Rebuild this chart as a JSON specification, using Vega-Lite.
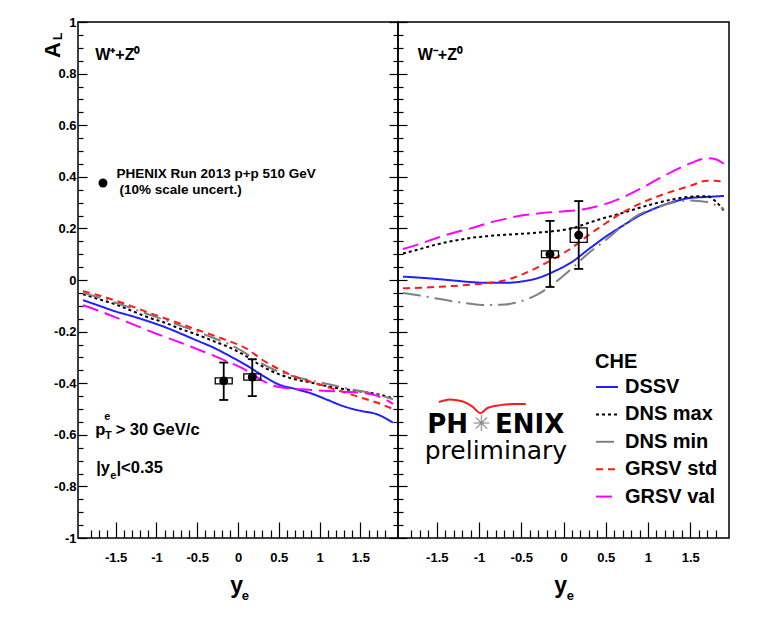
{
  "$schema": "https://vega.github.io/schema/vega-lite/v6.json",
  "background": "white",
  "padding": {"left": 41, "top": 15, "right": 5, "bottom": 5},
  "spacing": 0,
  "bounds": "flush",
  "datasets": {
    "curves": [
      {"p":"L","m":"DSSV","ye":-1.9,"AL":-0.078},{"p":"L","m":"DSSV","ye":-1.7,"AL":-0.1},{"p":"L","m":"DSSV","ye":-1.5,"AL":-0.122},{"p":"L","m":"DSSV","ye":-1.3,"AL":-0.14},{"p":"L","m":"DSSV","ye":-1.1,"AL":-0.16},{"p":"L","m":"DSSV","ye":-0.9,"AL":-0.182},{"p":"L","m":"DSSV","ye":-0.7,"AL":-0.208},{"p":"L","m":"DSSV","ye":-0.5,"AL":-0.235},{"p":"L","m":"DSSV","ye":-0.3,"AL":-0.262},{"p":"L","m":"DSSV","ye":-0.1,"AL":-0.295},{"p":"L","m":"DSSV","ye":0.1,"AL":-0.33},{"p":"L","m":"DSSV","ye":0.3,"AL":-0.37},{"p":"L","m":"DSSV","ye":0.5,"AL":-0.405},{"p":"L","m":"DSSV","ye":0.7,"AL":-0.422},{"p":"L","m":"DSSV","ye":0.9,"AL":-0.44},{"p":"L","m":"DSSV","ye":1.1,"AL":-0.465},{"p":"L","m":"DSSV","ye":1.3,"AL":-0.49},{"p":"L","m":"DSSV","ye":1.5,"AL":-0.507},{"p":"L","m":"DSSV","ye":1.7,"AL":-0.52},{"p":"L","m":"DSSV","ye":1.9,"AL":-0.553},
      {"p":"L","m":"DNS max","ye":-1.9,"AL":-0.055},{"p":"L","m":"DNS max","ye":-1.7,"AL":-0.075},{"p":"L","m":"DNS max","ye":-1.5,"AL":-0.095},{"p":"L","m":"DNS max","ye":-1.3,"AL":-0.12},{"p":"L","m":"DNS max","ye":-1.1,"AL":-0.145},{"p":"L","m":"DNS max","ye":-0.9,"AL":-0.165},{"p":"L","m":"DNS max","ye":-0.7,"AL":-0.19},{"p":"L","m":"DNS max","ye":-0.5,"AL":-0.212},{"p":"L","m":"DNS max","ye":-0.3,"AL":-0.237},{"p":"L","m":"DNS max","ye":-0.1,"AL":-0.262},{"p":"L","m":"DNS max","ye":0.1,"AL":-0.295},{"p":"L","m":"DNS max","ye":0.3,"AL":-0.335},{"p":"L","m":"DNS max","ye":0.5,"AL":-0.365},{"p":"L","m":"DNS max","ye":0.7,"AL":-0.385},{"p":"L","m":"DNS max","ye":0.9,"AL":-0.398},{"p":"L","m":"DNS max","ye":1.1,"AL":-0.412},{"p":"L","m":"DNS max","ye":1.3,"AL":-0.423},{"p":"L","m":"DNS max","ye":1.5,"AL":-0.432},{"p":"L","m":"DNS max","ye":1.7,"AL":-0.442},{"p":"L","m":"DNS max","ye":1.9,"AL":-0.458},
      {"p":"L","m":"DNS min","ye":-1.9,"AL":-0.05},{"p":"L","m":"DNS min","ye":-1.7,"AL":-0.068},{"p":"L","m":"DNS min","ye":-1.5,"AL":-0.088},{"p":"L","m":"DNS min","ye":-1.3,"AL":-0.11},{"p":"L","m":"DNS min","ye":-1.1,"AL":-0.133},{"p":"L","m":"DNS min","ye":-0.9,"AL":-0.155},{"p":"L","m":"DNS min","ye":-0.7,"AL":-0.178},{"p":"L","m":"DNS min","ye":-0.5,"AL":-0.2},{"p":"L","m":"DNS min","ye":-0.3,"AL":-0.225},{"p":"L","m":"DNS min","ye":-0.1,"AL":-0.25},{"p":"L","m":"DNS min","ye":0.1,"AL":-0.285},{"p":"L","m":"DNS min","ye":0.3,"AL":-0.325},{"p":"L","m":"DNS min","ye":0.5,"AL":-0.355},{"p":"L","m":"DNS min","ye":0.7,"AL":-0.375},{"p":"L","m":"DNS min","ye":0.9,"AL":-0.39},{"p":"L","m":"DNS min","ye":1.1,"AL":-0.403},{"p":"L","m":"DNS min","ye":1.3,"AL":-0.418},{"p":"L","m":"DNS min","ye":1.5,"AL":-0.43},{"p":"L","m":"DNS min","ye":1.7,"AL":-0.443},{"p":"L","m":"DNS min","ye":1.9,"AL":-0.462},
      {"p":"L","m":"GRSV std","ye":-1.9,"AL":-0.043},{"p":"L","m":"GRSV std","ye":-1.7,"AL":-0.06},{"p":"L","m":"GRSV std","ye":-1.5,"AL":-0.08},{"p":"L","m":"GRSV std","ye":-1.3,"AL":-0.102},{"p":"L","m":"GRSV std","ye":-1.1,"AL":-0.126},{"p":"L","m":"GRSV std","ye":-0.9,"AL":-0.148},{"p":"L","m":"GRSV std","ye":-0.7,"AL":-0.17},{"p":"L","m":"GRSV std","ye":-0.5,"AL":-0.193},{"p":"L","m":"GRSV std","ye":-0.3,"AL":-0.215},{"p":"L","m":"GRSV std","ye":-0.1,"AL":-0.238},{"p":"L","m":"GRSV std","ye":0.1,"AL":-0.265},{"p":"L","m":"GRSV std","ye":0.3,"AL":-0.31},{"p":"L","m":"GRSV std","ye":0.5,"AL":-0.345},{"p":"L","m":"GRSV std","ye":0.7,"AL":-0.375},{"p":"L","m":"GRSV std","ye":0.9,"AL":-0.395},{"p":"L","m":"GRSV std","ye":1.1,"AL":-0.415},{"p":"L","m":"GRSV std","ye":1.3,"AL":-0.435},{"p":"L","m":"GRSV std","ye":1.5,"AL":-0.455},{"p":"L","m":"GRSV std","ye":1.7,"AL":-0.475},{"p":"L","m":"GRSV std","ye":1.9,"AL":-0.5},
      {"p":"L","m":"GRSV val","ye":-1.9,"AL":-0.098},{"p":"L","m":"GRSV val","ye":-1.7,"AL":-0.12},{"p":"L","m":"GRSV val","ye":-1.5,"AL":-0.145},{"p":"L","m":"GRSV val","ye":-1.3,"AL":-0.17},{"p":"L","m":"GRSV val","ye":-1.1,"AL":-0.196},{"p":"L","m":"GRSV val","ye":-0.9,"AL":-0.22},{"p":"L","m":"GRSV val","ye":-0.7,"AL":-0.243},{"p":"L","m":"GRSV val","ye":-0.5,"AL":-0.268},{"p":"L","m":"GRSV val","ye":-0.3,"AL":-0.293},{"p":"L","m":"GRSV val","ye":-0.1,"AL":-0.32},{"p":"L","m":"GRSV val","ye":0.1,"AL":-0.35},{"p":"L","m":"GRSV val","ye":0.3,"AL":-0.39},{"p":"L","m":"GRSV val","ye":0.5,"AL":-0.415},{"p":"L","m":"GRSV val","ye":0.7,"AL":-0.422},{"p":"L","m":"GRSV val","ye":0.9,"AL":-0.426},{"p":"L","m":"GRSV val","ye":1.1,"AL":-0.43},{"p":"L","m":"GRSV val","ye":1.3,"AL":-0.433},{"p":"L","m":"GRSV val","ye":1.5,"AL":-0.437},{"p":"L","m":"GRSV val","ye":1.7,"AL":-0.448},{"p":"L","m":"GRSV val","ye":1.9,"AL":-0.48},
      {"p":"R","m":"DSSV","ye":-1.9,"AL":0.013},{"p":"R","m":"DSSV","ye":-1.7,"AL":0.009},{"p":"R","m":"DSSV","ye":-1.5,"AL":0.004},{"p":"R","m":"DSSV","ye":-1.3,"AL":-0.002},{"p":"R","m":"DSSV","ye":-1.1,"AL":-0.008},{"p":"R","m":"DSSV","ye":-0.9,"AL":-0.011},{"p":"R","m":"DSSV","ye":-0.7,"AL":-0.011},{"p":"R","m":"DSSV","ye":-0.5,"AL":-0.006},{"p":"R","m":"DSSV","ye":-0.3,"AL":0.008},{"p":"R","m":"DSSV","ye":-0.1,"AL":0.035},{"p":"R","m":"DSSV","ye":0.1,"AL":0.07},{"p":"R","m":"DSSV","ye":0.3,"AL":0.12},{"p":"R","m":"DSSV","ye":0.5,"AL":0.168},{"p":"R","m":"DSSV","ye":0.7,"AL":0.21},{"p":"R","m":"DSSV","ye":0.9,"AL":0.25},{"p":"R","m":"DSSV","ye":1.1,"AL":0.28},{"p":"R","m":"DSSV","ye":1.3,"AL":0.303},{"p":"R","m":"DSSV","ye":1.5,"AL":0.318},{"p":"R","m":"DSSV","ye":1.7,"AL":0.322},{"p":"R","m":"DSSV","ye":1.9,"AL":0.326},
      {"p":"R","m":"DNS max","ye":-1.9,"AL":0.103},{"p":"R","m":"DNS max","ye":-1.7,"AL":0.12},{"p":"R","m":"DNS max","ye":-1.5,"AL":0.138},{"p":"R","m":"DNS max","ye":-1.3,"AL":0.152},{"p":"R","m":"DNS max","ye":-1.1,"AL":0.163},{"p":"R","m":"DNS max","ye":-0.9,"AL":0.17},{"p":"R","m":"DNS max","ye":-0.7,"AL":0.175},{"p":"R","m":"DNS max","ye":-0.5,"AL":0.179},{"p":"R","m":"DNS max","ye":-0.3,"AL":0.184},{"p":"R","m":"DNS max","ye":-0.1,"AL":0.19},{"p":"R","m":"DNS max","ye":0.1,"AL":0.2},{"p":"R","m":"DNS max","ye":0.3,"AL":0.222},{"p":"R","m":"DNS max","ye":0.5,"AL":0.242},{"p":"R","m":"DNS max","ye":0.7,"AL":0.26},{"p":"R","m":"DNS max","ye":0.9,"AL":0.28},{"p":"R","m":"DNS max","ye":1.1,"AL":0.298},{"p":"R","m":"DNS max","ye":1.3,"AL":0.313},{"p":"R","m":"DNS max","ye":1.5,"AL":0.323},{"p":"R","m":"DNS max","ye":1.7,"AL":0.325},{"p":"R","m":"DNS max","ye":1.8,"AL":0.305},{"p":"R","m":"DNS max","ye":1.9,"AL":0.268},
      {"p":"R","m":"DNS min","ye":-1.9,"AL":-0.05},{"p":"R","m":"DNS min","ye":-1.7,"AL":-0.06},{"p":"R","m":"DNS min","ye":-1.5,"AL":-0.072},{"p":"R","m":"DNS min","ye":-1.3,"AL":-0.083},{"p":"R","m":"DNS min","ye":-1.1,"AL":-0.092},{"p":"R","m":"DNS min","ye":-0.9,"AL":-0.097},{"p":"R","m":"DNS min","ye":-0.7,"AL":-0.095},{"p":"R","m":"DNS min","ye":-0.5,"AL":-0.082},{"p":"R","m":"DNS min","ye":-0.3,"AL":-0.055},{"p":"R","m":"DNS min","ye":-0.1,"AL":-0.01},{"p":"R","m":"DNS min","ye":0.1,"AL":0.045},{"p":"R","m":"DNS min","ye":0.3,"AL":0.105},{"p":"R","m":"DNS min","ye":0.5,"AL":0.155},{"p":"R","m":"DNS min","ye":0.7,"AL":0.21},{"p":"R","m":"DNS min","ye":0.9,"AL":0.255},{"p":"R","m":"DNS min","ye":1.1,"AL":0.28},{"p":"R","m":"DNS min","ye":1.3,"AL":0.3},{"p":"R","m":"DNS min","ye":1.5,"AL":0.308},{"p":"R","m":"DNS min","ye":1.7,"AL":0.302},{"p":"R","m":"DNS min","ye":1.8,"AL":0.29},{"p":"R","m":"DNS min","ye":1.9,"AL":0.275},
      {"p":"R","m":"GRSV std","ye":-1.9,"AL":-0.032},{"p":"R","m":"GRSV std","ye":-1.7,"AL":-0.03},{"p":"R","m":"GRSV std","ye":-1.5,"AL":-0.027},{"p":"R","m":"GRSV std","ye":-1.3,"AL":-0.023},{"p":"R","m":"GRSV std","ye":-1.1,"AL":-0.018},{"p":"R","m":"GRSV std","ye":-0.9,"AL":-0.012},{"p":"R","m":"GRSV std","ye":-0.7,"AL":-0.002},{"p":"R","m":"GRSV std","ye":-0.5,"AL":0.02},{"p":"R","m":"GRSV std","ye":-0.3,"AL":0.05},{"p":"R","m":"GRSV std","ye":-0.1,"AL":0.085},{"p":"R","m":"GRSV std","ye":0.1,"AL":0.125},{"p":"R","m":"GRSV std","ye":0.3,"AL":0.175},{"p":"R","m":"GRSV std","ye":0.5,"AL":0.22},{"p":"R","m":"GRSV std","ye":0.7,"AL":0.262},{"p":"R","m":"GRSV std","ye":0.9,"AL":0.295},{"p":"R","m":"GRSV std","ye":1.1,"AL":0.322},{"p":"R","m":"GRSV std","ye":1.3,"AL":0.345},{"p":"R","m":"GRSV std","ye":1.5,"AL":0.365},{"p":"R","m":"GRSV std","ye":1.7,"AL":0.385},{"p":"R","m":"GRSV std","ye":1.8,"AL":0.385},{"p":"R","m":"GRSV std","ye":1.9,"AL":0.378},
      {"p":"R","m":"GRSV val","ye":-1.9,"AL":0.12},{"p":"R","m":"GRSV val","ye":-1.7,"AL":0.14},{"p":"R","m":"GRSV val","ye":-1.5,"AL":0.163},{"p":"R","m":"GRSV val","ye":-1.3,"AL":0.183},{"p":"R","m":"GRSV val","ye":-1.1,"AL":0.2},{"p":"R","m":"GRSV val","ye":-0.9,"AL":0.22},{"p":"R","m":"GRSV val","ye":-0.7,"AL":0.236},{"p":"R","m":"GRSV val","ye":-0.5,"AL":0.25},{"p":"R","m":"GRSV val","ye":-0.3,"AL":0.258},{"p":"R","m":"GRSV val","ye":-0.1,"AL":0.264},{"p":"R","m":"GRSV val","ye":0.1,"AL":0.268},{"p":"R","m":"GRSV val","ye":0.3,"AL":0.278},{"p":"R","m":"GRSV val","ye":0.5,"AL":0.295},{"p":"R","m":"GRSV val","ye":0.7,"AL":0.32},{"p":"R","m":"GRSV val","ye":0.9,"AL":0.352},{"p":"R","m":"GRSV val","ye":1.1,"AL":0.388},{"p":"R","m":"GRSV val","ye":1.3,"AL":0.422},{"p":"R","m":"GRSV val","ye":1.5,"AL":0.452},{"p":"R","m":"GRSV val","ye":1.7,"AL":0.472},{"p":"R","m":"GRSV val","ye":1.8,"AL":0.468},{"p":"R","m":"GRSV val","ye":1.9,"AL":0.45}
    ],
    "pts": [
      {"p":"L","ye":-0.175,"AL":-0.391,"lo":-0.465,"hi":-0.32,"slo":-0.403,"shi":-0.379},
      {"p":"L","ye":0.175,"AL":-0.376,"lo":-0.45,"hi":-0.307,"slo":-0.388,"shi":-0.364},
      {"p":"R","ye":-0.16,"AL":0.1,"lo":-0.027,"hi":0.229,"slo":0.087,"shi":0.113},
      {"p":"R","ye":0.18,"AL":0.174,"lo":0.043,"hi":0.306,"slo":0.146,"shi":0.202}
    ]
  },
  "hconcat": [
    {
      "width": 320,
      "height": 516,
      "resolve": {"axis": {"x": "independent", "y": "independent"}},
      "layer": [
        {
          "data": {"name": "curves"},
          "transform": [{"filter": "datum.p === 'L'"}],
          "mark": {"type": "line", "strokeWidth": 2, "interpolate": "monotone"},
          "encoding": {
            "x": {"field": "ye", "type": "quantitative", "scale": {"domain": [-1.9, 1.9], "nice": false, "zero": false},
              "axis": {"orient": "bottom", "values": [-1.5, -1, -0.5, 0, 0.5, 1, 1.5], "ticks": false, "domain": false, "grid": false, "title": null, "labelExpr": "''+datum.value", "labelFont": "Liberation Sans", "labelFontWeight": "bold", "labelFontSize": 13, "labelColor": "black", "labelPadding": 13, "labelOverlap": false, "labelFlush": false}},
            "y": {"field": "AL", "type": "quantitative", "scale": {"domain": [-1, 1], "nice": false, "zero": false},
              "axis": {"orient": "left", "values": [-1, -0.8, -0.6, -0.4, -0.2, 0, 0.2, 0.4, 0.6, 0.8, 1], "ticks": false, "domain": false, "grid": false, "title": null, "labelExpr": "''+datum.value", "labelFont": "Liberation Sans", "labelFontWeight": "bold", "labelFontSize": 13, "labelColor": "black", "labelPadding": 2, "labelOverlap": false, "labelFlush": false}},
            "color": {"field": "m", "type": "nominal", "legend": null, "scale": {"domain": ["DSSV", "DNS max", "DNS min", "GRSV std", "GRSV val"], "range": ["#1f1fff", "#000000", "#808080", "#ff1a1a", "#ff00ff"]}},
            "strokeDash": {"field": "m", "type": "nominal", "legend": null, "scale": {"domain": ["DSSV", "DNS max", "DNS min", "GRSV std", "GRSV val"], "range": [[1, 0], [3, 3], [18, 6, 2, 6], [7, 5], [16, 7]]}}
          }
        },
        {
          "data": {"name": "pts"},
          "transform": [{"filter": "datum.p === 'L'"}],
          "mark": {"type": "bar", "width": 17, "fill": "transparent", "stroke": "black", "strokeWidth": 1.3},
          "encoding": {
            "x": {"field": "ye", "type": "quantitative", "scale": {"domain": [-1.9, 1.9], "nice": false, "zero": false},
              "axis": {"orient": "bottom", "values": [-1.5, -1, -0.5, 0, 0.5, 1, 1.5], "labels": false, "domain": false, "grid": false, "title": null, "tickSize": 16, "offset": -16, "tickColor": "black", "tickWidth": 1.2}},
            "y": {"field": "slo", "type": "quantitative", "scale": {"domain": [-1, 1], "nice": false, "zero": false},
              "axis": {"orient": "left", "values": [-1, -0.8, -0.6, -0.4, -0.2, 0, 0.2, 0.4, 0.6, 0.8, 1], "labels": false, "domain": false, "grid": false, "title": null, "tickSize": 9, "offset": -9, "tickColor": "black", "tickWidth": 1.2}},
            "y2": {"field": "shi"}
          }
        },
        {
          "data": {"name": "pts"},
          "transform": [{"filter": "datum.p === 'L'"}],
          "mark": {"type": "rule", "color": "black", "strokeWidth": 1.8},
          "encoding": {
            "x": {"field": "ye", "type": "quantitative", "scale": {"domain": [-1.9, 1.9], "nice": false, "zero": false},
              "axis": {"orient": "bottom", "values": [-1.8, -1.7, -1.6, -1.4, -1.3, -1.2, -1.1, -0.9, -0.8, -0.7, -0.6, -0.4, -0.3, -0.2, -0.1, 0.1, 0.2, 0.3, 0.4, 0.6, 0.7, 0.8, 0.9, 1.1, 1.2, 1.3, 1.4, 1.6, 1.7, 1.8], "labels": false, "domain": false, "grid": false, "title": null, "tickSize": 8, "offset": -8, "tickColor": "black", "tickWidth": 1.2}},
            "y": {"field": "lo", "type": "quantitative", "scale": {"domain": [-1, 1], "nice": false, "zero": false},
              "axis": {"orient": "left", "values": [-0.95, -0.9, -0.85, -0.75, -0.7, -0.65, -0.55, -0.5, -0.45, -0.35, -0.3, -0.25, -0.15, -0.1, -0.05, 0.05, 0.1, 0.15, 0.25, 0.3, 0.35, 0.45, 0.5, 0.55, 0.65, 0.7, 0.75, 0.85, 0.9, 0.95], "labels": false, "domain": false, "grid": false, "title": null, "tickSize": 5, "offset": -5, "tickColor": "black", "tickWidth": 1.2}},
            "y2": {"field": "hi"}
          }
        },
        {
          "data": {"name": "pts"},
          "transform": [{"filter": "datum.p === 'L'"}],
          "mark": {"type": "tick", "orient": "horizontal", "color": "black", "size": 9, "thickness": 1.8, "opacity": 1},
          "encoding": {
            "x": {"field": "ye", "type": "quantitative", "scale": {"domain": [-1.9, 1.9], "nice": false, "zero": false}, "axis": null},
            "y": {"field": "lo", "type": "quantitative", "scale": {"domain": [-1, 1], "nice": false, "zero": false},
              "axis": {"orient": "right", "values": [-1, -0.8, -0.6, -0.4, -0.2, 0, 0.2, 0.4, 0.6, 0.8, 1], "labels": false, "domain": false, "grid": false, "title": null, "tickSize": 9, "offset": -9, "tickColor": "black", "tickWidth": 1.2}}
          }
        },
        {
          "data": {"name": "pts"},
          "transform": [{"filter": "datum.p === 'L'"}],
          "mark": {"type": "tick", "orient": "horizontal", "color": "black", "size": 9, "thickness": 1.8, "opacity": 1},
          "encoding": {
            "x": {"field": "ye", "type": "quantitative", "scale": {"domain": [-1.9, 1.9], "nice": false, "zero": false}, "axis": null},
            "y": {"field": "hi", "type": "quantitative", "scale": {"domain": [-1, 1], "nice": false, "zero": false},
              "axis": {"orient": "right", "values": [-0.95, -0.9, -0.85, -0.75, -0.7, -0.65, -0.55, -0.5, -0.45, -0.35, -0.3, -0.25, -0.15, -0.1, -0.05, 0.05, 0.1, 0.15, 0.25, 0.3, 0.35, 0.45, 0.5, 0.55, 0.65, 0.7, 0.75, 0.85, 0.9, 0.95], "labels": false, "domain": false, "grid": false, "title": null, "tickSize": 5, "offset": -5, "tickColor": "black", "tickWidth": 1.2}}
          }
        },
        {
          "data": {"values": [{"ye": -0.175, "AL": -0.391}, {"ye": 0.175, "AL": -0.376}, {"ye": -1.655, "AL": 0.376}]},
          "mark": {"type": "circle", "color": "black", "size": 80, "opacity": 1},
          "encoding": {
            "x": {"field": "ye", "type": "quantitative", "scale": {"domain": [-1.9, 1.9], "nice": false, "zero": false}, "axis": null},
            "y": {"field": "AL", "type": "quantitative", "scale": {"domain": [-1, 1], "nice": false, "zero": false}, "axis": null}
          }
        },
        {
          "data": {"values": [{"ye": -1.75, "AL": 0.853, "t": "W⁺+Z⁰"}]},
          "mark": {"type": "text", "font": "Liberation Sans", "fontWeight": "bold", "fontSize": 16, "align": "left", "baseline": "alphabetic", "color": "black"},
          "encoding": {
            "x": {"field": "ye", "type": "quantitative", "scale": {"domain": [-1.9, 1.9], "nice": false, "zero": false}, "axis": null},
            "y": {"field": "AL", "type": "quantitative", "scale": {"domain": [-1, 1], "nice": false, "zero": false}, "axis": null},
            "text": {"field": "t"}
          }
        },
        {
          "data": {"values": [{"ye": -1.488, "AL": 0.395, "t": "PHENIX Run 2013 p+p 510 GeV"}, {"ye": -1.452, "AL": 0.333, "t": "(10% scale uncert.)"}]},
          "mark": {"type": "text", "font": "Liberation Sans", "fontWeight": "bold", "fontSize": 13.5, "align": "left", "baseline": "alphabetic", "color": "black"},
          "encoding": {
            "x": {"field": "ye", "type": "quantitative", "scale": {"domain": [-1.9, 1.9], "nice": false, "zero": false}, "axis": null},
            "y": {"field": "AL", "type": "quantitative", "scale": {"domain": [-1, 1], "nice": false, "zero": false}, "axis": null},
            "text": {"field": "t"}
          }
        },
        {
          "data": {"values": [{"ye": -1.75, "AL": -0.601, "t": "p"}, {"ye": -1.5, "AL": -0.601, "t": "> 30 GeV/c"}, {"ye": -1.738, "AL": -0.748, "t": "|y"}, {"ye": -1.49, "AL": -0.748, "t": "|<0.35"}]},
          "mark": {"type": "text", "font": "Liberation Sans", "fontWeight": "bold", "fontSize": 16.5, "align": "left", "baseline": "alphabetic", "color": "black"},
          "encoding": {
            "x": {"field": "ye", "type": "quantitative", "scale": {"domain": [-1.9, 1.9], "nice": false, "zero": false}, "axis": null},
            "y": {"field": "AL", "type": "quantitative", "scale": {"domain": [-1, 1], "nice": false, "zero": false}, "axis": null},
            "text": {"field": "t"}
          }
        },
        {
          "data": {"values": [{"ye": -1.64, "AL": -0.543, "t": "e"}, {"ye": -1.631, "AL": -0.615, "t": "T"}, {"ye": -1.567, "AL": -0.772, "t": "e"}]},
          "mark": {"type": "text", "font": "Liberation Sans", "fontWeight": "bold", "fontSize": 11, "align": "left", "baseline": "alphabetic", "color": "black"},
          "encoding": {
            "x": {"field": "ye", "type": "quantitative", "scale": {"domain": [-1.9, 1.9], "nice": false, "zero": false}, "axis": null},
            "y": {"field": "AL", "type": "quantitative", "scale": {"domain": [-1, 1], "nice": false, "zero": false}, "axis": null},
            "text": {"field": "t"}
          }
        },
        {
          "data": {"values": [{"ye": -2.179, "AL": 0.891, "t": "A"}]},
          "mark": {"type": "text", "font": "Liberation Sans", "fontWeight": "bold", "fontSize": 22, "angle": 270, "align": "center", "baseline": "alphabetic", "color": "black"},
          "encoding": {
            "x": {"field": "ye", "type": "quantitative", "scale": {"domain": [-1.9, 1.9], "nice": false, "zero": false}, "axis": null},
            "y": {"field": "AL", "type": "quantitative", "scale": {"domain": [-1, 1], "nice": false, "zero": false}, "axis": null},
            "text": {"field": "t"}
          }
        },
        {
          "data": {"values": [{"ye": -2.155, "AL": 0.944, "t": "L"}]},
          "mark": {"type": "text", "font": "Liberation Sans", "fontWeight": "bold", "fontSize": 12, "angle": 270, "align": "center", "baseline": "alphabetic", "color": "black"},
          "encoding": {
            "x": {"field": "ye", "type": "quantitative", "scale": {"domain": [-1.9, 1.9], "nice": false, "zero": false}, "axis": null},
            "y": {"field": "AL", "type": "quantitative", "scale": {"domain": [-1, 1], "nice": false, "zero": false}, "axis": null},
            "text": {"field": "t"}
          }
        },
        {
          "data": {"values": [{"ye": -0.018, "AL": -1.213, "t": "y"}]},
          "mark": {"type": "text", "font": "Liberation Sans", "fontWeight": "bold", "fontSize": 23, "align": "center", "baseline": "alphabetic", "color": "black"},
          "encoding": {
            "x": {"field": "ye", "type": "quantitative", "scale": {"domain": [-1.9, 1.9], "nice": false, "zero": false}, "axis": null},
            "y": {"field": "AL", "type": "quantitative", "scale": {"domain": [-1, 1], "nice": false, "zero": false}, "axis": null},
            "text": {"field": "t"}
          }
        },
        {
          "data": {"values": [{"ye": 0.089, "AL": -1.24, "t": "e"}]},
          "mark": {"type": "text", "font": "Liberation Sans", "fontWeight": "bold", "fontSize": 13, "align": "center", "baseline": "alphabetic", "color": "black"},
          "encoding": {
            "x": {"field": "ye", "type": "quantitative", "scale": {"domain": [-1.9, 1.9], "nice": false, "zero": false}, "axis": null},
            "y": {"field": "AL", "type": "quantitative", "scale": {"domain": [-1, 1], "nice": false, "zero": false}, "axis": null},
            "text": {"field": "t"}
          }
        }
      ]
    },
    {
      "width": 331,
      "height": 516,
      "resolve": {"axis": {"x": "independent", "y": "independent"}},
      "layer": [
        {
          "data": {"name": "curves"},
          "transform": [{"filter": "datum.p === 'R'"}],
          "mark": {"type": "line", "strokeWidth": 2, "interpolate": "monotone"},
          "encoding": {
            "x": {"field": "ye", "type": "quantitative", "scale": {"domain": [-1.9, 1.9], "nice": false, "zero": false},
              "axis": {"orient": "bottom", "values": [-1.5, -1, -0.5, 0, 0.5, 1, 1.5], "ticks": false, "domain": false, "grid": false, "title": null, "labelExpr": "''+datum.value", "labelFont": "Liberation Sans", "labelFontWeight": "bold", "labelFontSize": 13, "labelColor": "black", "labelPadding": 13, "labelOverlap": false, "labelFlush": false}},
            "y": {"field": "AL", "type": "quantitative", "scale": {"domain": [-1, 1], "nice": false, "zero": false},
              "axis": {"orient": "left", "values": [-1, -0.8, -0.6, -0.4, -0.2, 0, 0.2, 0.4, 0.6, 0.8, 1], "labels": false, "domain": false, "grid": false, "title": null, "tickSize": 9, "offset": -9, "tickColor": "black", "tickWidth": 1.2}},
            "color": {"field": "m", "type": "nominal", "scale": {"domain": ["DSSV", "DNS max", "DNS min", "GRSV std", "GRSV val"], "range": ["#1f1fff", "#000000", "#808080", "#ff1a1a", "#ff00ff"]},
              "legend": {"title": "CHE", "orient": "none", "legendX": 197, "legendY": 330}},
            "strokeDash": {"field": "m", "type": "nominal", "scale": {"domain": ["DSSV", "DNS max", "DNS min", "GRSV std", "GRSV val"], "range": [[1, 0], [3, 3], [18, 6, 2, 6], [7, 5], [16, 7]]},
              "legend": {"title": "CHE", "orient": "none", "legendX": 197, "legendY": 330}}
          }
        },
        {
          "data": {"name": "pts"},
          "transform": [{"filter": "datum.p === 'R'"}],
          "mark": {"type": "bar", "width": 17, "fill": "transparent", "stroke": "black", "strokeWidth": 1.3},
          "encoding": {
            "x": {"field": "ye", "type": "quantitative", "scale": {"domain": [-1.9, 1.9], "nice": false, "zero": false},
              "axis": {"orient": "bottom", "values": [-1.5, -1, -0.5, 0, 0.5, 1, 1.5], "labels": false, "domain": false, "grid": false, "title": null, "tickSize": 16, "offset": -16, "tickColor": "black", "tickWidth": 1.2}},
            "y": {"field": "slo", "type": "quantitative", "scale": {"domain": [-1, 1], "nice": false, "zero": false},
              "axis": {"orient": "left", "values": [-0.95, -0.9, -0.85, -0.75, -0.7, -0.65, -0.55, -0.5, -0.45, -0.35, -0.3, -0.25, -0.15, -0.1, -0.05, 0.05, 0.1, 0.15, 0.25, 0.3, 0.35, 0.45, 0.5, 0.55, 0.65, 0.7, 0.75, 0.85, 0.9, 0.95], "labels": false, "domain": false, "grid": false, "title": null, "tickSize": 5, "offset": -5, "tickColor": "black", "tickWidth": 1.2}},
            "y2": {"field": "shi"}
          }
        },
        {
          "data": {"name": "pts"},
          "transform": [{"filter": "datum.p === 'R'"}],
          "mark": {"type": "rule", "color": "black", "strokeWidth": 1.8},
          "encoding": {
            "x": {"field": "ye", "type": "quantitative", "scale": {"domain": [-1.9, 1.9], "nice": false, "zero": false},
              "axis": {"orient": "bottom", "values": [-1.8, -1.7, -1.6, -1.4, -1.3, -1.2, -1.1, -0.9, -0.8, -0.7, -0.6, -0.4, -0.3, -0.2, -0.1, 0.1, 0.2, 0.3, 0.4, 0.6, 0.7, 0.8, 0.9, 1.1, 1.2, 1.3, 1.4, 1.6, 1.7, 1.8], "labels": false, "domain": false, "grid": false, "title": null, "tickSize": 8, "offset": -8, "tickColor": "black", "tickWidth": 1.2}},
            "y": {"field": "lo", "type": "quantitative", "scale": {"domain": [-1, 1], "nice": false, "zero": false}, "axis": null},
            "y2": {"field": "hi"}
          }
        },
        {
          "data": {"name": "pts"},
          "transform": [{"filter": "datum.p === 'R'"}],
          "mark": {"type": "tick", "orient": "horizontal", "color": "black", "size": 9, "thickness": 1.8, "opacity": 1},
          "encoding": {
            "x": {"field": "ye", "type": "quantitative", "scale": {"domain": [-1.9, 1.9], "nice": false, "zero": false}, "axis": null},
            "y": {"field": "lo", "type": "quantitative", "scale": {"domain": [-1, 1], "nice": false, "zero": false}, "axis": null}
          }
        },
        {
          "data": {"name": "pts"},
          "transform": [{"filter": "datum.p === 'R'"}],
          "mark": {"type": "tick", "orient": "horizontal", "color": "black", "size": 9, "thickness": 1.8, "opacity": 1},
          "encoding": {
            "x": {"field": "ye", "type": "quantitative", "scale": {"domain": [-1.9, 1.9], "nice": false, "zero": false}, "axis": null},
            "y": {"field": "hi", "type": "quantitative", "scale": {"domain": [-1, 1], "nice": false, "zero": false}, "axis": null}
          }
        },
        {
          "data": {"name": "pts"},
          "transform": [{"filter": "datum.p === 'R'"}],
          "mark": {"type": "circle", "color": "black", "size": 80, "opacity": 1},
          "encoding": {
            "x": {"field": "ye", "type": "quantitative", "scale": {"domain": [-1.9, 1.9], "nice": false, "zero": false}, "axis": null},
            "y": {"field": "AL", "type": "quantitative", "scale": {"domain": [-1, 1], "nice": false, "zero": false}, "axis": null}
          }
        },
        {
          "data": {"values": [{"ye": -1.726, "AL": 0.853, "t": "W⁻+Z⁰"}]},
          "mark": {"type": "text", "font": "Liberation Sans", "fontWeight": "bold", "fontSize": 16, "align": "left", "baseline": "alphabetic", "color": "black"},
          "encoding": {
            "x": {"field": "ye", "type": "quantitative", "scale": {"domain": [-1.9, 1.9], "nice": false, "zero": false}, "axis": null},
            "y": {"field": "AL", "type": "quantitative", "scale": {"domain": [-1, 1], "nice": false, "zero": false}, "axis": null},
            "text": {"field": "t"}
          }
        },
        {
          "data": {"values": [{"ye": -1.474, "AL": -0.473}, {"ye": -1.35, "AL": -0.463}, {"ye": -1.2, "AL": -0.47}, {"ye": -1.08, "AL": -0.49}, {"ye": -0.983, "AL": -0.516}, {"ye": -0.9, "AL": -0.496}, {"ye": -0.75, "AL": -0.485}, {"ye": -0.6, "AL": -0.481}, {"ye": -0.446, "AL": -0.481}]},
          "mark": {"type": "line", "color": "#ff1a1a", "strokeWidth": 2, "interpolate": "monotone"},
          "encoding": {
            "x": {"field": "ye", "type": "quantitative", "scale": {"domain": [-1.9, 1.9], "nice": false, "zero": false}, "axis": null},
            "y": {"field": "AL", "type": "quantitative", "scale": {"domain": [-1, 1], "nice": false, "zero": false}, "axis": null}
          }
        },
        {
          "data": {"values": [{"ye": -1.131, "AL": -0.593, "t": "PH"}]},
          "mark": {"type": "text", "font": "DejaVu Sans", "fontWeight": "bold", "fontSize": 26, "align": "right", "baseline": "alphabetic", "color": "black"},
          "encoding": {
            "x": {"field": "ye", "type": "quantitative", "scale": {"domain": [-1.9, 1.9], "nice": false, "zero": false}, "axis": null},
            "y": {"field": "AL", "type": "quantitative", "scale": {"domain": [-1, 1], "nice": false, "zero": false}, "axis": null},
            "text": {"field": "t"}
          }
        },
        {
          "data": {"values": [{"ye": -0.811, "AL": -0.593, "t": "ENIX"}]},
          "mark": {"type": "text", "font": "DejaVu Sans", "fontWeight": "bold", "fontSize": 26, "align": "left", "baseline": "alphabetic", "color": "black"},
          "encoding": {
            "x": {"field": "ye", "type": "quantitative", "scale": {"domain": [-1.9, 1.9], "nice": false, "zero": false}, "axis": null},
            "y": {"field": "AL", "type": "quantitative", "scale": {"domain": [-1, 1], "nice": false, "zero": false}, "axis": null},
            "text": {"field": "t"}
          }
        },
        {
          "data": {"values": [{"ye": -0.971, "AL": -0.56, "t": "✳"}]},
          "mark": {"type": "text", "font": "DejaVu Sans", "fontSize": 22, "align": "center", "baseline": "middle", "color": "#8a8a8a"},
          "encoding": {
            "x": {"field": "ye", "type": "quantitative", "scale": {"domain": [-1.9, 1.9], "nice": false, "zero": false}, "axis": null},
            "y": {"field": "AL", "type": "quantitative", "scale": {"domain": [-1, 1], "nice": false, "zero": false}, "axis": null},
            "text": {"field": "t"}
          }
        },
        {
          "data": {"values": [{"ye": -0.8, "AL": -0.694, "t": "preliminary"}]},
          "mark": {"type": "text", "font": "DejaVu Sans", "fontSize": 25, "align": "center", "baseline": "alphabetic", "color": "black"},
          "encoding": {
            "x": {"field": "ye", "type": "quantitative", "scale": {"domain": [-1.9, 1.9], "nice": false, "zero": false}, "axis": null},
            "y": {"field": "AL", "type": "quantitative", "scale": {"domain": [-1, 1], "nice": false, "zero": false}, "axis": null},
            "text": {"field": "t"}
          }
        },
        {
          "data": {"values": [{"ye": -0.034, "AL": -1.213, "t": "y"}]},
          "mark": {"type": "text", "font": "Liberation Sans", "fontWeight": "bold", "fontSize": 23, "align": "center", "baseline": "alphabetic", "color": "black"},
          "encoding": {
            "x": {"field": "ye", "type": "quantitative", "scale": {"domain": [-1.9, 1.9], "nice": false, "zero": false}, "axis": null},
            "y": {"field": "AL", "type": "quantitative", "scale": {"domain": [-1, 1], "nice": false, "zero": false}, "axis": null},
            "text": {"field": "t"}
          }
        },
        {
          "data": {"values": [{"ye": 0.08, "AL": -1.24, "t": "e"}]},
          "mark": {"type": "text", "font": "Liberation Sans", "fontWeight": "bold", "fontSize": 13, "align": "center", "baseline": "alphabetic", "color": "black"},
          "encoding": {
            "x": {"field": "ye", "type": "quantitative", "scale": {"domain": [-1.9, 1.9], "nice": false, "zero": false}, "axis": null},
            "y": {"field": "AL", "type": "quantitative", "scale": {"domain": [-1, 1], "nice": false, "zero": false}, "axis": null},
            "text": {"field": "t"}
          }
        }
      ]
    }
  ],
  "resolve": {"scale": {"color": "independent", "strokeDash": "independent"}, "legend": {"color": "independent", "strokeDash": "independent"}},
  "config": {
    "view": {"stroke": "black", "strokeWidth": 1.5},
    "legend": {"labelFont": "Liberation Sans", "labelFontWeight": "bold", "labelFontSize": 20, "labelColor": "black", "titleFont": "Liberation Sans", "titleFontWeight": "bold", "titleFontSize": 20, "titleColor": "black", "symbolType": "stroke", "symbolSize": 484, "symbolStrokeWidth": 2, "rowPadding": 5.4, "titlePadding": 3, "labelOffset": 6, "padding": 0}
  }
}
